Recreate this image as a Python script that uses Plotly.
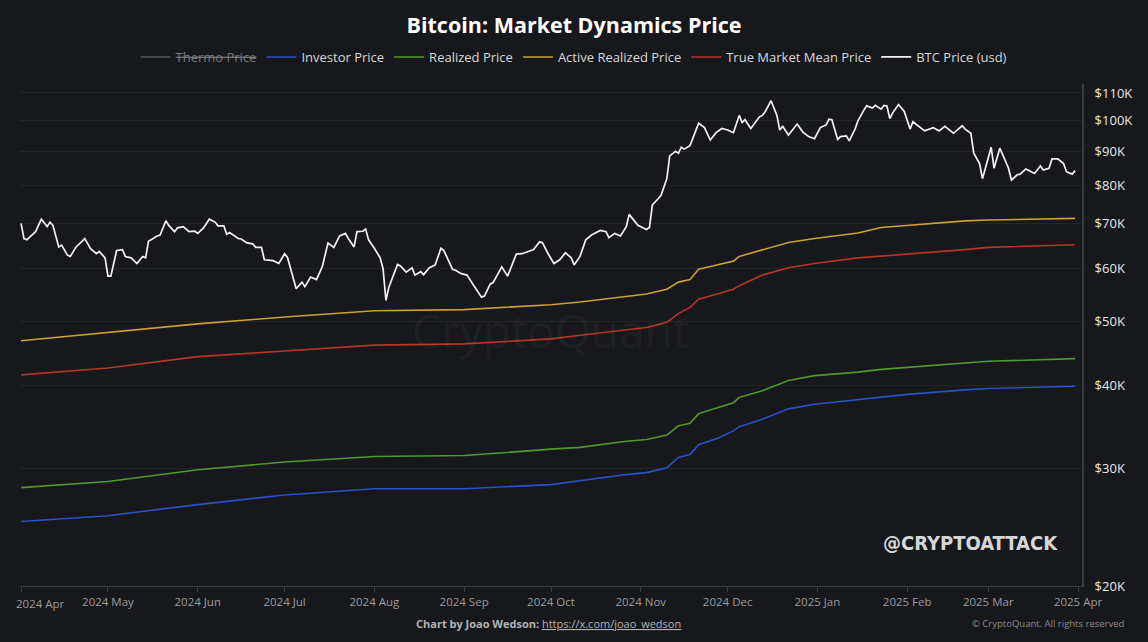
import plotly.graph_objects as go

# BTC price (usd)
btc_dates = [
    "2024-04-01", "2024-04-02", "2024-04-03", "2024-04-06", "2024-04-08", "2024-04-10",
    "2024-04-11", "2024-04-12", "2024-04-14", "2024-04-15", "2024-04-17", "2024-04-18",
    "2024-04-20", "2024-04-23", "2024-04-25", "2024-04-27", "2024-04-28", "2024-04-30",
    "2024-05-01", "2024-05-02", "2024-05-04", "2024-05-06", "2024-05-07", "2024-05-09",
    "2024-05-11", "2024-05-13", "2024-05-14", "2024-05-15", "2024-05-18", "2024-05-19",
    "2024-05-21", "2024-05-22", "2024-05-24", "2024-05-25", "2024-05-27", "2024-05-29",
    "2024-05-31", "2024-06-01", "2024-06-03", "2024-06-05", "2024-06-07", "2024-06-08",
    "2024-06-10", "2024-06-11", "2024-06-12", "2024-06-15", "2024-06-16", "2024-06-18",
    "2024-06-20", "2024-06-21", "2024-06-23", "2024-06-24", "2024-06-27", "2024-06-29",
    "2024-07-01", "2024-07-02", "2024-07-05", "2024-07-07", "2024-07-08", "2024-07-10",
    "2024-07-12", "2024-07-14", "2024-07-16", "2024-07-18", "2024-07-20", "2024-07-22",
    "2024-07-23", "2024-07-25", "2024-07-26", "2024-07-28", "2024-07-29", "2024-07-30",
    "2024-08-01", "2024-08-03", "2024-08-04", "2024-08-05", "2024-08-06", "2024-08-09",
    "2024-08-10", "2024-08-12", "2024-08-14", "2024-08-15", "2024-08-17", "2024-08-18",
    "2024-08-20", "2024-08-22", "2024-08-24", "2024-08-25", "2024-08-28", "2024-08-29",
    "2024-08-31", "2024-09-02", "2024-09-04", "2024-09-07", "2024-09-08", "2024-09-10",
    "2024-09-11", "2024-09-14", "2024-09-16", "2024-09-17", "2024-09-19", "2024-09-21",
    "2024-09-23", "2024-09-25", "2024-09-27", "2024-09-28", "2024-09-30", "2024-10-02",
    "2024-10-04", "2024-10-06", "2024-10-08", "2024-10-09", "2024-10-11", "2024-10-13",
    "2024-10-15", "2024-10-18", "2024-10-20", "2024-10-21", "2024-10-23", "2024-10-25",
    "2024-10-27", "2024-10-28", "2024-10-31", "2024-11-03", "2024-11-04", "2024-11-05",
    "2024-11-07", "2024-11-08", "2024-11-10", "2024-11-11", "2024-11-13", "2024-11-14",
    "2024-11-15", "2024-11-16", "2024-11-18", "2024-11-19", "2024-11-21", "2024-11-23",
    "2024-11-25", "2024-11-27", "2024-11-29", "2024-12-01", "2024-12-03", "2024-12-05",
    "2024-12-06", "2024-12-07", "2024-12-09", "2024-12-12", "2024-12-13", "2024-12-14",
    "2024-12-16", "2024-12-18", "2024-12-19", "2024-12-20", "2024-12-22", "2024-12-25",
    "2024-12-27", "2024-12-29", "2024-12-31", "2025-01-02", "2025-01-04", "2025-01-05",
    "2025-01-06", "2025-01-08", "2025-01-09", "2025-01-11", "2025-01-12", "2025-01-14",
    "2025-01-15", "2025-01-17", "2025-01-18", "2025-01-20", "2025-01-21", "2025-01-23",
    "2025-01-24", "2025-01-25", "2025-01-26", "2025-01-27", "2025-01-29", "2025-01-31",
    "2025-02-02", "2025-02-03", "2025-02-05", "2025-02-07", "2025-02-10", "2025-02-12",
    "2025-02-14", "2025-02-17", "2025-02-20", "2025-02-21", "2025-02-23", "2025-02-24",
    "2025-02-26", "2025-02-27", "2025-03-02", "2025-03-03", "2025-03-05", "2025-03-08",
    "2025-03-09", "2025-03-11", "2025-03-12", "2025-03-14", "2025-03-17", "2025-03-19",
    "2025-03-20", "2025-03-22", "2025-03-23", "2025-03-25", "2025-03-27", "2025-03-28",
    "2025-03-30", "2025-03-31",
]
btc_price = [
    70100, 66500, 66200, 68100, 71100, 69300,
    70400, 69600, 64600, 65000, 62800, 62500,
    64600, 66500, 64200, 63100, 63600, 62200,
    58400, 58400, 63800, 64000, 62500, 62200,
    61000, 62500, 62200, 65900, 67100, 67300,
    70700, 69600, 68100, 69000, 69300, 68100,
    68200, 67700, 69000, 71100, 70400, 69500,
    69500, 67500, 67900, 66500, 66400, 65500,
    65300, 64500, 64500, 61800, 61600, 61000,
    63100, 62300, 55900, 57200, 56300, 58200,
    57700, 60300, 65500, 64500, 67100, 67700,
    66500, 64600, 68100, 68200, 68700, 66200,
    64300, 62200, 59900, 53700, 56200, 60800,
    60500, 59200, 60100, 58600, 59300, 58700,
    60100, 60700, 64300, 63800, 59800, 59600,
    58900, 58600, 56800, 54300, 54500, 56800,
    57100, 60300, 58400, 59900, 63000, 63100,
    63600, 64000, 65700, 65600, 63100, 61000,
    61800, 63300, 62200, 60700, 62500, 66200,
    67300, 68400, 68100, 66700, 67700, 67100,
    69300, 72300, 69600, 68600, 69100, 74700,
    76300, 77200, 81800, 88500, 89900, 89300,
    91200, 90600, 91700, 93900, 99100, 97600,
    93500, 95900, 97300, 96800, 95900, 101800,
    99300, 100300, 97300, 101300, 101800, 103200,
    107100, 101800, 96800, 98000, 95100, 98800,
    96100, 94600, 93900, 97600, 98500, 100500,
    100300, 93700, 94600, 94800, 93200, 97100,
    99900, 103600, 105200, 104400, 105400, 104000,
    105400, 105200, 100700, 102700, 105700, 103200,
    97100, 99600, 98000, 96500, 97600, 96500,
    98000, 95700, 98200, 97100, 95700, 89300,
    86200, 81800, 91200, 84800, 90900, 84800,
    81400, 82900, 83100, 84600, 83300, 85500,
    84300, 84800, 87600, 87600, 86200, 83800,
    83100, 84100,
]

# on-chain price models, sampled on the same dates
metric_dates = [
    "2024-04-01", "2024-05-01", "2024-06-01", "2024-07-01", "2024-08-01", "2024-09-01",
    "2024-10-01", "2024-10-11", "2024-10-27", "2024-11-03", "2024-11-10", "2024-11-14",
    "2024-11-18", "2024-11-21", "2024-11-28", "2024-12-03", "2024-12-05", "2024-12-13",
    "2024-12-22", "2024-12-31", "2025-01-15", "2025-01-23", "2025-02-01", "2025-02-21",
    "2025-03-01", "2025-03-31",
]
active_realized = [
    46700, 48000, 49500, 50700, 51800, 52000, 52900, 53400, 54500, 54900, 55800, 57200,
    57700, 59800, 60800, 61500, 62500, 64000, 65600, 66500, 67800, 69100, 69600, 70700,
    70900, 71300,
]
true_market_mean = [
    41500, 42500, 44200, 45100, 46000, 46200, 47000, 47600, 48500, 48900, 49800, 51300,
    52400, 53900, 55000, 55800, 56500, 58600, 60100, 61000, 62200, 62600, 62900, 64000,
    64500, 65100,
]
realized = [
    28100, 28700, 29900, 30700, 31300, 31400, 32100, 32300, 33000, 33200, 33700, 34800,
    35100, 36300, 37100, 37700, 38400, 39300, 40700, 41400, 41900, 42300, 42600, 43200,
    43500, 43900,
]
investor = [
    25000, 25500, 26500, 27400, 28000, 28000, 28400, 28800, 29400, 29600, 30100, 31200,
    31500, 32600, 33400, 34200, 34700, 35600, 36900, 37500, 38100, 38400, 38800, 39400,
    39600, 39900,
]
# thermo price is switched off in the legend, so nothing of it is drawn
thermo_dates = ["2024-04-01"]
thermo_price = [None]

month_ticks = [
    "2024-04-01", "2024-05-01", "2024-06-01", "2024-07-01", "2024-08-01", "2024-09-01",
    "2024-10-01", "2024-11-01", "2024-12-01", "2025-01-01", "2025-02-01", "2025-03-01",
    "2025-04-01",
]
month_labels = ["", "2024 May", "2024 Jun", "2024 Jul", "2024 Aug", "2024 Sep", "2024 Oct",
                "2024 Nov", "2024 Dec", "2025 Jan", "2025 Feb", "2025 Mar", "2025 Apr"]
price_ticks = [20000, 30000, 40000, 50000, 60000, 70000, 80000, 90000, 100000, 110000]
price_labels = ["$20K", "$30K", "$40K", "$50K", "$60K", "$70K", "$80K", "$90K", "$100K", "$110K"]

W, H = 1148, 642
L, R, T, B = 20, 66, 84, 56
pw, ph = W - L - R, H - T - B


def px(x):
    return (x - L) / pw


def py(y):
    return (H - B - y) / ph


fig = go.Figure()

fig.add_trace(go.Scatter(x=thermo_dates, y=thermo_price, name="<s>Thermo Price</s>", mode="lines",
                         line=dict(color="#9a9a9a", width=1.5), visible="legendonly"))
fig.add_trace(go.Scatter(x=metric_dates, y=investor, name="Investor Price", mode="lines",
                         line=dict(color="#2a52c9", width=1.6)))
fig.add_trace(go.Scatter(x=metric_dates, y=realized, name="Realized Price", mode="lines",
                         line=dict(color="#4f9a2c", width=1.6)))
fig.add_trace(go.Scatter(x=metric_dates, y=active_realized, name="Active Realized Price", mode="lines",
                         line=dict(color="#c9a234", width=1.6)))
fig.add_trace(go.Scatter(x=metric_dates, y=true_market_mean, name="True Market Mean Price", mode="lines",
                         line=dict(color="#b8352b", width=1.6)))
fig.add_trace(go.Scatter(x=btc_dates, y=btc_price, name="BTC Price (usd)", mode="lines",
                         line=dict(color="#f2f2f2", width=1.7)))

bg = "#17181c"
fig.update_layout(
    width=W, height=H,
    margin=dict(l=L, r=R, t=T, b=B),
    paper_bgcolor=bg, plot_bgcolor=bg,
    font=dict(family="Open Sans", color="#d8d8d8"),
    title=dict(text="<b>Bitcoin: Market Dynamics Price</b>", x=0.5, xanchor="center",
               y=1 - 25 / H, yanchor="middle", font=dict(size=21.5, color="#ffffff")),
    legend=dict(orientation="h", x=px(574), xanchor="center",
                y=py(57), yanchor="middle", font=dict(size=13, color="#d8d8d8"),
                bgcolor="rgba(0,0,0,0)", itemwidth=30),
    showlegend=True,
    hovermode="x unified",
)

fig.update_xaxes(
    range=["2024-03-31 15:00", "2025-04-02 09:00"],
    tickvals=month_ticks, ticktext=month_labels,
    tickfont=dict(size=11.5, color="#9c9c9c"),
    showgrid=False, zeroline=False,
    showline=True, linecolor="#3a3c42", linewidth=1,
    ticks="outside", ticklen=5, tickcolor="#3a3c42",
)
fig.update_yaxes(
    type="log", side="right",
    range=[4.30103, 5.0549],
    tickvals=price_ticks, ticktext=price_labels,
    tickfont=dict(size=13, color="#e8e8e8"),
    showgrid=True, gridcolor="#23252a", gridwidth=1,
    zeroline=False,
    showline=True, linecolor="#3a3c42", linewidth=2,
    ticks="", ticklabelstandoff=8,
)

# first month label sits shifted right so it stays inside the chart
fig.add_annotation(text="2024 Apr", xref="paper", yref="paper", x=px(40), y=py(603),
                   xanchor="center", yanchor="middle", showarrow=False,
                   font=dict(size=11.5, color="#9c9c9c"))
fig.add_annotation(text="CryptoQuant", xref="paper", yref="paper", x=px(550), y=py(330),
                   xanchor="center", yanchor="middle", showarrow=False,
                   font=dict(size=46, color="rgba(255,255,255,0.055)"))
fig.add_annotation(text="<b>@CRYPTOATTACK</b>", xref="paper", yref="paper", x=px(970), y=py(543),
                   xanchor="center", yanchor="middle", showarrow=False,
                   font=dict(family="DejaVu Sans Condensed, Liberation Sans Narrow, Roboto Condensed, Roboto",
                             size=20, color="#d6d6d6"))
fig.add_annotation(text="<b>Chart by Joao Wedson:</b> <u>https://x.com/joao_wedson</u>",
                   xref="paper", yref="paper", x=px(548), y=py(623), xanchor="center",
                   yanchor="middle", showarrow=False, font=dict(size=11, color="#b4b4b4"))
fig.add_annotation(text="© CryptoQuant. All rights reserved", xref="paper", yref="paper",
                   x=px(1126), y=py(623), xanchor="right", yanchor="middle", showarrow=False,
                   font=dict(size=9.5, color="#8c8c8c"))

fig.write_html("out.html", config={"displayModeBar": False},
               post_script="document.body.style.margin='0';")
